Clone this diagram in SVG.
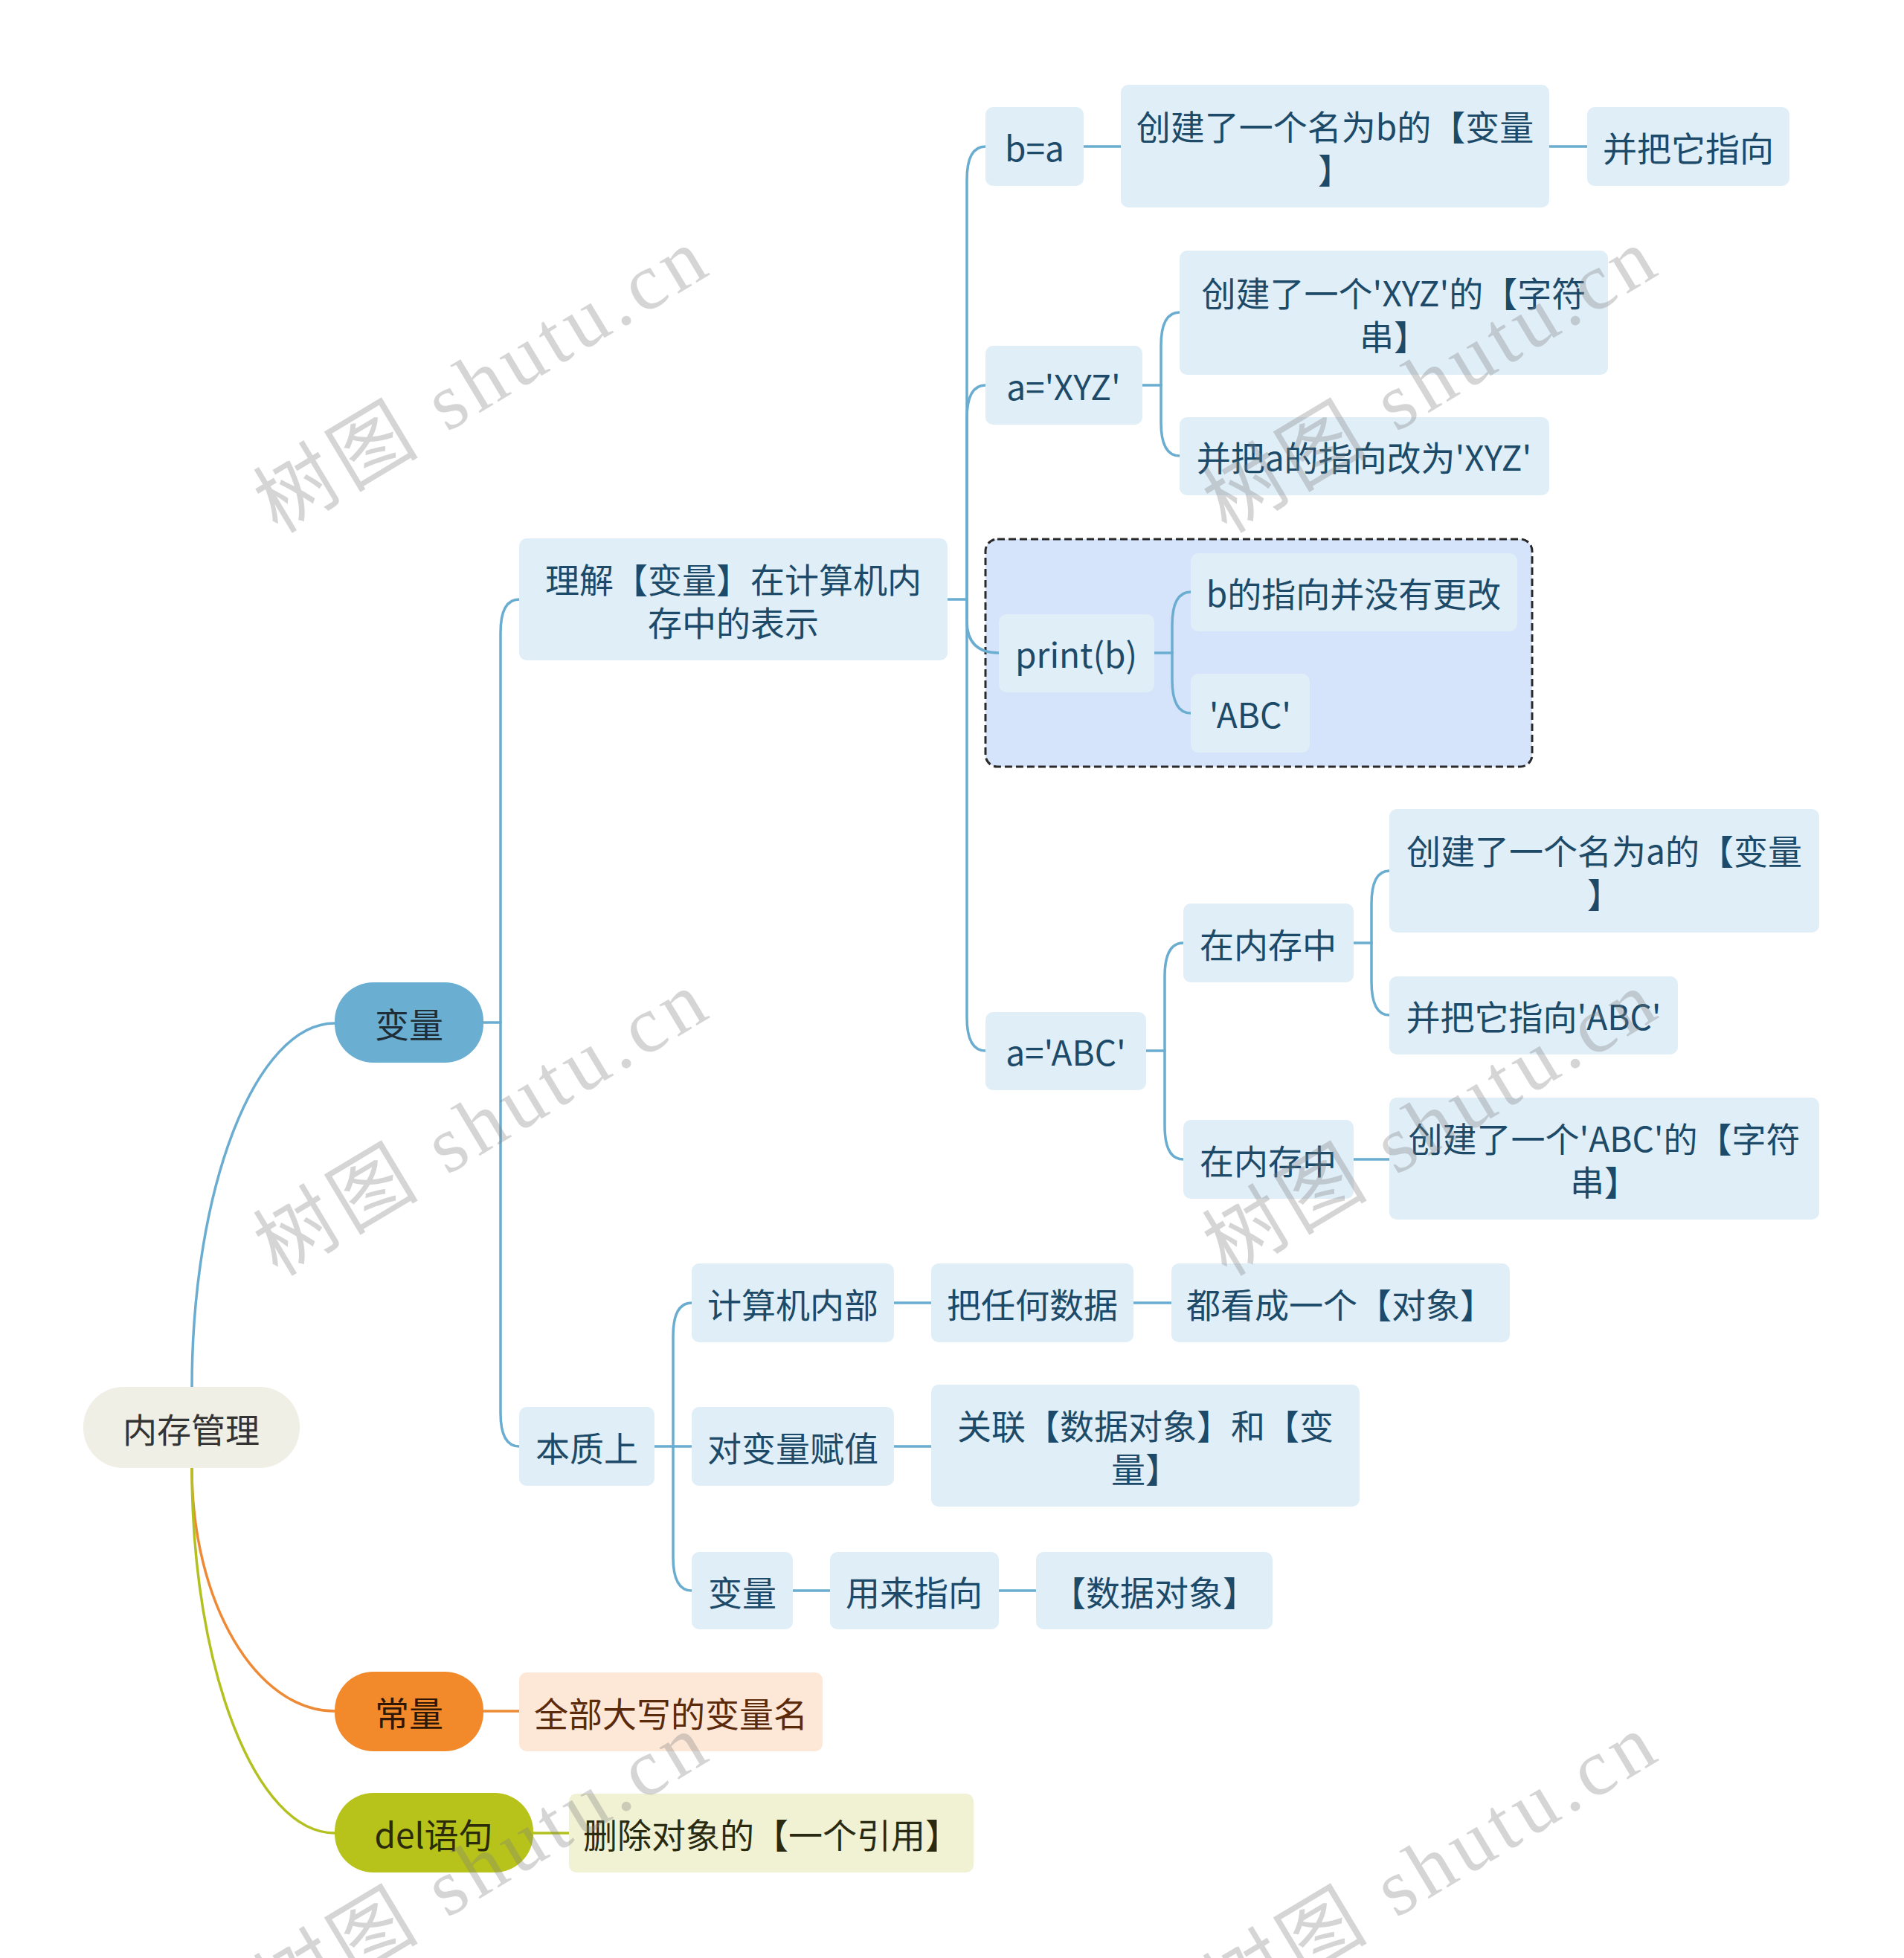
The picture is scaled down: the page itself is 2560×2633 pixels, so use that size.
<svg xmlns="http://www.w3.org/2000/svg" width="2560" height="2633" viewBox="0 0 2560 2633">
<defs>
<style>
text { font-family: "Noto Sans CJK SC", "Noto Sans", sans-serif; font-size: 46px; text-anchor: middle; dominant-baseline: central; }
.sub rect { fill: #dfeef7; }
.sub text { fill: #1c4a68; }
.c { fill: none; stroke: #6aadd0; stroke-width: 3.5; stroke-linecap: round; }
.co { stroke: #ee8a35; }
.cd { stroke: #b3c120; }
.wm { font-family: "Liberation Serif", "Noto Sans CJK SC", serif; font-size: 108px; fill: #808080; fill-opacity: 0.33; }
</style>
</defs>
<rect width="2560" height="2633" fill="#ffffff"/>

<g id="boundary">
<rect x="1325" y="725" width="735" height="306" rx="16" fill="#d5e3fb" stroke="#2a2a2a" stroke-width="3" stroke-dasharray="10 5"/>
</g>

<g id="connectors">
<path class="c" d="M258 1867 C258 1596 344 1376 450 1376"/>
<path class="c co" d="M258 1974 C258 2155 344 2301 450 2301"/>
<path class="c cd" d="M258 1974 C258 2245 344 2465 450 2465"/>

<path class="c" d="M650 1375 H673"/>
<path class="c" d="M673 1375 V851 Q673 806 698 806"/>
<path class="c" d="M673 1375 V1900 Q673 1945 698 1945"/>

<path class="c" d="M1274 806 H1300"/>
<path class="c" d="M1300 806 V242 Q1300 197 1325 197"/>
<path class="c" d="M1300 806 V563 Q1300 518 1325 518"/>
<path class="c" d="M1300 806 V835 Q1300 878 1343 878"/>
<path class="c" d="M1300 806 V1368 Q1300 1413 1325 1413"/>

<path class="c" d="M1457 197 H1507"/>
<path class="c" d="M2083 197 H2134"/>

<path class="c" d="M1536 518 H1561"/>
<path class="c" d="M1561 518 V465 Q1561 420 1586 420"/>
<path class="c" d="M1561 518 V568 Q1561 613 1586 613"/>

<path class="c" d="M1552 878 H1576"/>
<path class="c" d="M1576 878 V841 Q1576 796 1601 796"/>
<path class="c" d="M1576 878 V914 Q1576 959 1601 959"/>

<path class="c" d="M1541 1413 H1566"/>
<path class="c" d="M1566 1413 V1313 Q1566 1268 1591 1268"/>
<path class="c" d="M1566 1413 V1514 Q1566 1559 1591 1559"/>

<path class="c" d="M1820 1268 H1844"/>
<path class="c" d="M1844 1268 V1216 Q1844 1171 1868 1171"/>
<path class="c" d="M1844 1268 V1320 Q1844 1365 1868 1365"/>

<path class="c" d="M1820 1559 H1868"/>

<path class="c" d="M880 1945 H930"/>
<path class="c" d="M905 1945 V1797 Q905 1752 930 1752"/>
<path class="c" d="M905 1945 V2094 Q905 2139 930 2139"/>

<path class="c" d="M1202 1752 H1252"/>
<path class="c" d="M1524 1752 H1575"/>
<path class="c" d="M1202 1945 H1252"/>
<path class="c" d="M1066 2139 H1116"/>
<path class="c" d="M1343 2139 H1393"/>

<path class="c co" d="M650 2301 H698"/>
<path class="c cd" d="M717 2465 H765"/>
</g>

<g id="root">
<rect x="112" y="1865" width="291" height="109" rx="54" fill="#efefe6"/>
<text x="257" y="1920" fill="#333333">内存管理</text>
</g>

<g id="main-bianliang">
<rect x="450" y="1321" width="200" height="108" rx="52" fill="#6aaed1"/>
<text x="550" y="1375" fill="#1f2d36">变量</text>
</g>
<g id="main-changliang">
<rect x="450" y="2248" width="200" height="107" rx="52" fill="#f28a2c"/>
<text x="550" y="2301" fill="#2e1805">常量</text>
</g>
<g id="main-del">
<rect x="450" y="2411" width="267" height="107" rx="52" fill="#b7c31a"/>
<text x="583" y="2465" fill="#2b2b0a">del语句</text>
</g>

<g id="n-changliang-1">
<rect x="698" y="2249" width="408" height="106" rx="10" fill="#fde7d7"/>
<text x="902" y="2302" fill="#5a2a0a">全部大写的变量名</text>
</g>
<g id="n-del-1">
<rect x="765" y="2412" width="544" height="106" rx="10" fill="#f0f2d3"/>
<text x="1037" y="2465" fill="#2a2a10">删除对象的【一个引用】</text>
</g>

<g id="n-lijie" class="sub">
<rect x="698" y="724" width="576" height="164" rx="10"/>
<text x="986" y="777">理解【变量】在计算机内<tspan x="986" y="835">存中的表示</tspan></text>
</g>
<g id="n-benzhi" class="sub">
<rect x="698" y="1892" width="182" height="106" rx="10"/>
<text x="789" y="1945">本质上</text>
</g>

<g id="n-ba" class="sub">
<rect x="1325" y="144" width="132" height="106" rx="10"/>
<text x="1391" y="197">b=a</text>
</g>
<g id="n-ba-1" class="sub">
<rect x="1507" y="114" width="576" height="165" rx="10"/>
<text x="1795" y="168">创建了一个名为b的【变量<tspan x="1795" y="226">】</tspan></text>
</g>
<g id="n-ba-2" class="sub">
<rect x="2134" y="144" width="272" height="106" rx="10"/>
<text x="2270" y="197">并把它指向</text>
</g>

<g id="n-axyz" class="sub">
<rect x="1325" y="465" width="211" height="106" rx="10"/>
<text x="1430" y="518">a='XYZ'</text>
</g>
<g id="n-axyz-1" class="sub">
<rect x="1586" y="337" width="576" height="167" rx="10"/>
<text x="1874" y="392">创建了一个'XYZ'的【字符<tspan x="1874" y="450">串】</tspan></text>
</g>
<g id="n-axyz-2" class="sub">
<rect x="1586" y="561" width="497" height="105" rx="10"/>
<text x="1834" y="613">并把a的指向改为'XYZ'</text>
</g>

<g id="n-print" class="sub">
<rect x="1343" y="826" width="209" height="105" rx="10"/>
<text x="1447" y="878">print(b)</text>
</g>
<g id="n-print-1" class="sub">
<rect x="1601" y="744" width="439" height="105" rx="10"/>
<text x="1820" y="796">b的指向并没有更改</text>
</g>
<g id="n-print-2" class="sub">
<rect x="1601" y="906" width="160" height="106" rx="10"/>
<text x="1681" y="959">'ABC'</text>
</g>

<g id="n-aabc" class="sub">
<rect x="1325" y="1361" width="216" height="105" rx="10"/>
<text x="1433" y="1413">a='ABC'</text>
</g>
<g id="n-nc1" class="sub">
<rect x="1591" y="1215" width="229" height="106" rx="10"/>
<text x="1705" y="1268">在内存中</text>
</g>
<g id="n-nc1-1" class="sub">
<rect x="1868" y="1088" width="578" height="166" rx="10"/>
<text x="2157" y="1142">创建了一个名为a的【变量<tspan x="2157" y="1200">】</tspan></text>
</g>
<g id="n-nc1-2" class="sub">
<rect x="1868" y="1313" width="388" height="105" rx="10"/>
<text x="2062" y="1365">并把它指向'ABC'</text>
</g>
<g id="n-nc2" class="sub">
<rect x="1591" y="1506" width="229" height="106" rx="10"/>
<text x="1705" y="1559">在内存中</text>
</g>
<g id="n-nc2-1" class="sub">
<rect x="1868" y="1476" width="578" height="164" rx="10"/>
<text x="2157" y="1529">创建了一个'ABC'的【字符<tspan x="2157" y="1587">串】</tspan></text>
</g>

<g id="n-jsj" class="sub">
<rect x="930" y="1699" width="272" height="106" rx="10"/>
<text x="1066" y="1752">计算机内部</text>
</g>
<g id="n-jsj-1" class="sub">
<rect x="1252" y="1699" width="272" height="106" rx="10"/>
<text x="1388" y="1752">把任何数据</text>
</g>
<g id="n-jsj-2" class="sub">
<rect x="1575" y="1699" width="455" height="106" rx="10"/>
<text x="1802" y="1752">都看成一个【对象】</text>
</g>
<g id="n-fz" class="sub">
<rect x="930" y="1892" width="272" height="106" rx="10"/>
<text x="1066" y="1945">对变量赋值</text>
</g>
<g id="n-fz-1" class="sub">
<rect x="1252" y="1862" width="576" height="164" rx="10"/>
<text x="1540" y="1915">关联【数据对象】和【变<tspan x="1540" y="1973">量】</tspan></text>
</g>
<g id="n-bl" class="sub">
<rect x="930" y="2087" width="136" height="104" rx="10"/>
<text x="998" y="2139">变量</text>
</g>
<g id="n-bl-1" class="sub">
<rect x="1116" y="2087" width="227" height="104" rx="10"/>
<text x="1229" y="2139">用来指向</text>
</g>
<g id="n-bl-2" class="sub">
<rect x="1393" y="2087" width="318" height="104" rx="10"/>
<text x="1552" y="2139">【数据对象】</text>
</g>

<g id="watermarks">
<text class="wm" x="646" y="512" transform="rotate(-31 646 512)" textLength="680" lengthAdjust="spacing">树图 shutu.cn</text>
<text class="wm" x="1922" y="512" transform="rotate(-31 1922 512)" textLength="680" lengthAdjust="spacing">树图 shutu.cn</text>
<text class="wm" x="646" y="1511" transform="rotate(-31 646 1511)" textLength="680" lengthAdjust="spacing">树图 shutu.cn</text>
<text class="wm" x="1922" y="1511" transform="rotate(-31 1922 1511)" textLength="680" lengthAdjust="spacing">树图 shutu.cn</text>
<text class="wm" x="646" y="2510" transform="rotate(-31 646 2510)" textLength="680" lengthAdjust="spacing">树图 shutu.cn</text>
<text class="wm" x="1922" y="2510" transform="rotate(-31 1922 2510)" textLength="680" lengthAdjust="spacing">树图 shutu.cn</text>
</g>
</svg>
